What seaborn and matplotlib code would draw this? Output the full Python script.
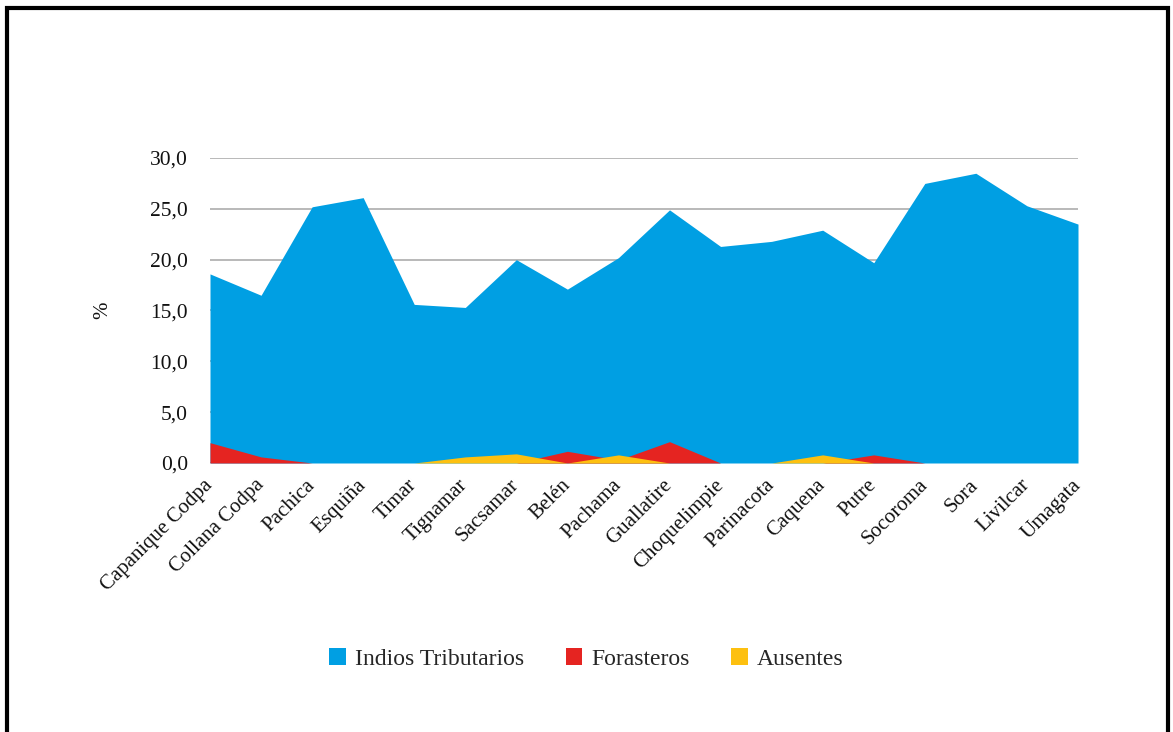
import matplotlib
matplotlib.use("Agg")
import matplotlib.pyplot as plt
from matplotlib.patches import Patch, Rectangle
from matplotlib.ticker import FuncFormatter
import seaborn as sns
import pandas as pd

pueblos = ["Capanique Codpa", "Collana Codpa", "Pachica", "Esquiña", "Timar",
           "Tignamar", "Sacsamar", "Belén", "Pachama", "Guallatire",
           "Choquelimpie", "Parinacota", "Caquena", "Putre", "Socoroma",
           "Sora", "Livilcar", "Umagata"]
indios_tributarios = [18.6, 16.5, 25.2, 26.1, 15.6, 15.3, 20.0, 17.1, 20.2, 24.9,
                      21.3, 21.8, 22.9, 19.7, 27.5, 28.5, 25.3, 23.5]
forasteros = [2.0, 0.6, 0.0, 0.0, 0.0, 0.0, 0.0, 1.15, 0.3, 2.1,
              0.0, 0.0, 0.0, 0.8, 0.0, 0.0, 0.0, 0.0]
ausentes = [0.0, 0.0, 0.0, 0.0, 0.0, 0.6, 0.9, 0.0, 0.8, 0.0,
            0.0, 0.0, 0.8, 0.0, 0.0, 0.0, 0.0, 0.0]

series_names = ["Indios Tributarios", "Forasteros", "Ausentes"]
colores = ["#009FE3", "#E52421", "#FDC010"]

df = pd.DataFrame({"pueblo": pueblos,
                   "Indios Tributarios": indios_tributarios,
                   "Forasteros": forasteros,
                   "Ausentes": ausentes})
df["pos"] = range(len(df))

sns.set_theme(style="white")
plt.rcParams["font.family"] = ["Liberation Serif", "DejaVu Serif"]

fig = plt.figure(figsize=(11.73, 7.32), dpi=100)
ax = fig.add_axes([210 / 1173, 1 - 463 / 732, 868 / 1173, 305 / 732])

# overlapping areas, each from zero
for name, col in zip(series_names, colores):
    ax.fill_between(df["pos"], 0, df[name], color=col, linewidth=0, zorder=2)
    sns.lineplot(data=df, x="pos", y=name, ax=ax, color=col, linewidth=0,
                 zorder=2, legend=False)

ax.set_xlim(0, len(pueblos) - 1)
ax.set_ylim(0, 30)
ax.set_yticks([0, 5, 10, 15, 20, 25, 30])
ax.yaxis.set_major_formatter(FuncFormatter(lambda v, p: f"{v:.1f}".replace(".", ",")))
ax.grid(axis="y", color="#a6a6a6", linewidth=1.1, zorder=0)
ax.set_axisbelow(True)
sns.despine(ax=ax, left=True, bottom=True)

ax.set_xticks(df["pos"])
ax.set_xticklabels(pueblos, rotation=45, ha="right", va="center",
                   rotation_mode="anchor")
ax.tick_params(axis="x", length=0, pad=14, labelsize=15, labelcolor="#111111")
ax.tick_params(axis="y", length=0, pad=16, labelsize=15.5, labelcolor="#111111")
ax.set_xlabel("")
ax.set_ylabel("%", fontsize=15, color="#111111", labelpad=27)

handles = [Patch(facecolor=c, edgecolor="none") for c in colores]
fig.legend(handles, series_names, loc="center", bbox_to_anchor=(0.5, 1 - 659 / 732),
           ncol=3, frameon=False, fontsize=17, handlelength=0.7, handleheight=0.7,
           handletextpad=0.4, columnspacing=1.75)

# page frame
fig.patches.append(Rectangle((7 / 1173, -0.1), 1161 / 1173, 1.1 - 8.5 / 732,
                             transform=fig.transFigure, fill=False,
                             edgecolor="black", linewidth=3))

fig.savefig("out.png", dpi=100, facecolor="white")
